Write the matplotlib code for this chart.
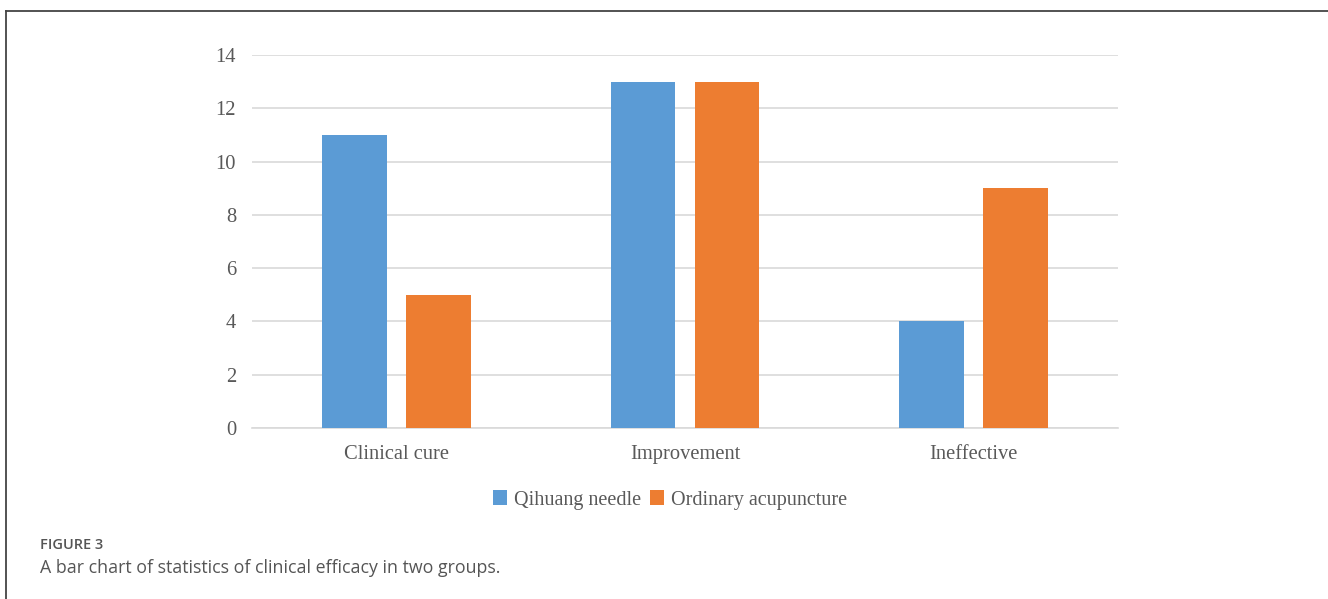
import numpy as np
import matplotlib
matplotlib.use('Agg')
from matplotlib import pyplot as plt
from matplotlib.lines import Line2D

categories = ['Clinical cure', 'Improvement', 'Ineffective']
qihuang = [11, 13, 4]
ordinary = [5, 13, 9]
series_names = ['Qihuang needle', 'Ordinary acupuncture']
yticks = [0, 2, 4, 6, 8, 10, 12, 14]

BLUE = '#5b9bd5'
ORANGE = '#ed7d31'
TICK_GRAY = '#595959'

W, H = 1328, 599
fig = plt.figure(figsize=(W / 100, H / 100), dpi=100)

# plot area in pixel terms
left, right, top, bottom = 252, 1118, 55, 428
ax = fig.add_axes([left / W, 1 - bottom / H, (right - left) / W, (bottom - top) / H])

x = np.arange(len(categories))
width = 0.225
offset = 0.1455
ax.bar(x - offset, qihuang, width, color=BLUE, zorder=3, label=series_names[0])
ax.bar(x + offset, ordinary, width, color=ORANGE, zorder=3, label=series_names[1])

ax.set_xlim(-0.5, len(categories) - 0.5)
ax.set_ylim(0, 14)
ax.set_yticks(yticks)
ax.set_xticks(x)
ax.set_xticklabels(categories)
ax.yaxis.grid(True, color='#d9d9d9', linewidth=1.2, zorder=0)
for s in ['top', 'right', 'left']:
    ax.spines[s].set_visible(False)
ax.spines['bottom'].set_color('#d9d9d9')
ax.spines['bottom'].set_linewidth(1.2)
ax.tick_params(axis='both', length=0, colors=TICK_GRAY, labelsize=14.8)
ax.tick_params(axis='y', pad=11.5)
ax.tick_params(axis='x', pad=12)
for lab in ax.get_xticklabels() + ax.get_yticklabels():
    lab.set_fontfamily('Liberation Serif')

leg = fig.legend(loc='center', bbox_to_anchor=(670 / W, 1 - 500 / H), ncol=2,
                 frameon=False, handlelength=0.7, handleheight=0.7,
                 handletextpad=0.35, columnspacing=0.4,
                 prop={'family': 'Liberation Serif', 'size': 14.5})
for t in leg.get_texts():
    t.set_color(TICK_GRAY)

# outer frame: top and left edges only
fig.add_artist(Line2D([6 / W, 1], [1 - 11 / H, 1 - 11 / H], color='#444444', lw=1.3,
                      transform=fig.transFigure))
fig.add_artist(Line2D([6 / W, 6 / W], [1 - 11 / H, 0], color='#444444', lw=1.3,
                      transform=fig.transFigure))

fig.text(40 / W, 1 - 545 / H, 'FIGURE 3', fontsize=10.5, fontweight='semibold',
         color='#555555', family='Open Sans', va='center')
fig.text(40 / W, 1 - 568 / H, 'A bar chart of statistics of clinical efficacy in two groups.',
         fontsize=12.8, color='#555555', family='Open Sans', va='center')

fig.savefig('out.png', dpi=100)
